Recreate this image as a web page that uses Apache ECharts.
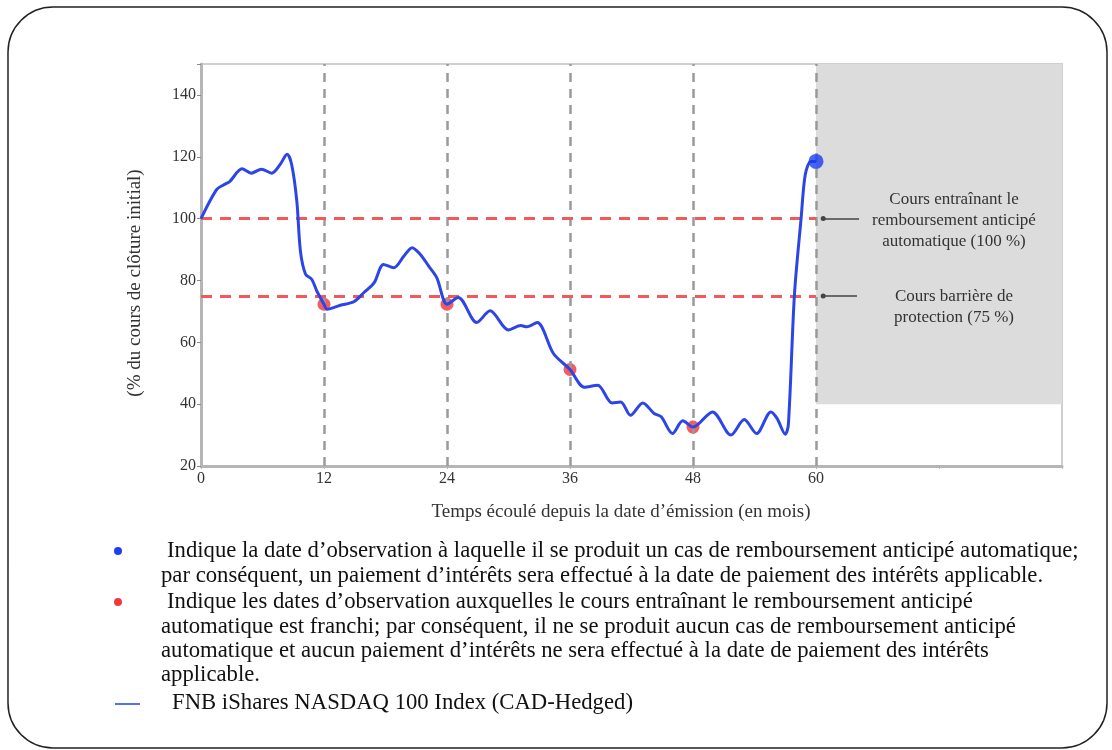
<!DOCTYPE html>
<html>
<head>
<meta charset="utf-8">
<script src="https://cdn.jsdelivr.net/npm/echarts@6.0.0/dist/echarts.min.js"></script>
<style>
  html, body { margin: 0; padding: 0; background: #fff; }
  #main { width: 1112px; height: 750px; }
</style>
</head>
<body>
<div id="main"></div>
<script>
// mois écoulés / % du cours de clôture initial
var months = [0, 1.5, 2.2, 2.8, 4.0, 4.9, 5.9, 6.9, 7.7, 8.4, 8.85, 9.35, 9.7, 10.2, 10.8, 11.3,
  12.0, 12.3, 13.6, 14.9, 15.9, 16.9, 17.8, 18.8, 19.8, 20.6, 21.4, 22.2, 23.0,
  24.0, 25.1, 26.9, 28.2, 30.0, 31.2, 31.8, 32.8, 34.4, 36.0, 37.4, 38.7, 40.1, 40.95,
  41.9, 43.1, 44.2, 44.9, 46.0, 47.0, 48.0, 49.9, 51.7, 53.0, 54.2, 55.6, 56.2, 57.0,
  57.3, 57.9, 58.55, 58.95, 59.5, 60.0];
var values = [100, 109.3, 110.9, 112, 116.1, 114.7, 116, 114.7, 117.4, 120.8, 117.4, 105.6, 89.5, 82, 80.4, 76.6,
  72.3, 70.7, 72, 73.1, 76.1, 79.3, 85.2, 84.1, 87.9, 90.6, 88.4, 84.7, 80.9,
  72.3, 74.5, 66.4, 70.2, 64, 65.4, 65, 66.4, 56.3, 51.2, 45.5, 46.1, 40.4, 40.7,
  36.4, 40.4, 37, 35.9, 30.5, 34.6, 32.6, 37.5, 30, 35, 30.5, 37.5, 35.4, 30.3,
  33.2, 75.6, 100.2, 114.2, 118.5, 118.5];

var observationMonths = [12, 24, 36, 48, 60];
var redDotValues = [72.3, 72.3, 51.2, 32.6];
var blueDotValue = 118.5;
var autocallLevel = 100;
var barrierLevel = 75;
var xTickLabels = ["0", "12", "24", "36", "48", "60"];
var yTickLabels = ["20", "40", "60", "80", "100", "120", "140"];

var legendLines = [
  "Indique la date d\u2019observation à laquelle il se produit un cas de remboursement anticipé automatique;",
  "par conséquent, un paiement d\u2019intérêts sera effectué à la date de paiement des intérêts applicable.",
  "Indique les dates d\u2019observation auxquelles le cours entraînant le remboursement anticipé",
  "automatique est franchi; par conséquent, il ne se produit aucun cas de remboursement anticipé",
  "automatique et aucun paiement d\u2019intérêts ne sera effectué à la date de paiement des intérêts",
  "applicable.",
  "FNB iShares NASDAQ 100 Index (CAD-Hedged)"
];

var lineData = months.map(function (m, i) { return [m, values[i]]; });
var redData = redDotValues.map(function (v, i) { return [observationMonths[i], v]; });

// largeur du texte de légende (police étroite dans l'original)
var cv = document.createElement("canvas").getContext("2d");
cv.font = '23px "Liberation Serif"';
var legendScale = 908 / cv.measureText(legendLines[0]).width * 1.004;

var serif = '"Liberation Serif", serif';
var legendY = [551, 576, 602, 627, 651, 675, 703];
var legendX = [167, 161, 167, 161, 161, 161, 172];

var graphics = [
  {
    type: "rect",
    z: -10,
    shape: { x: 8, y: 7, width: 1099, height: 741, r: 45 },
    style: { fill: "none", stroke: "#222", lineWidth: 1.5 }
  },
  {
    type: "text",
    z: 100,
    x: 621, y: 512,
    style: {
      text: "Temps écoulé depuis la date d\u2019émission (en mois)",
      font: "19px " + serif, fill: "#333", align: "center", verticalAlign: "middle"
    }
  },
  {
    type: "text",
    z: 100,
    x: 135, y: 283,
    rotation: Math.PI / 2,
    style: {
      text: "(% du cours de clôture initial)",
      font: "19px " + serif, fill: "#333", align: "center", verticalAlign: "middle"
    }
  },
  {
    type: "text",
    z: 100,
    x: 954, y: 221,
    style: {
      text: "Cours entraînant le\nremboursement anticipé\nautomatique (100 %)",
      font: "17px " + serif, fill: "#333", align: "center", verticalAlign: "middle", lineHeight: 21
    }
  },
  {
    type: "text",
    z: 100,
    x: 954, y: 307,
    style: {
      text: "Cours barrière de\nprotection (75 %)",
      font: "17px " + serif, fill: "#333", align: "center", verticalAlign: "middle", lineHeight: 21
    }
  },
  { type: "circle", z: 100, shape: { cx: 118, cy: 551, r: 4 }, style: { fill: "#1f3ff0" } },
  { type: "circle", z: 100, shape: { cx: 118, cy: 602, r: 4 }, style: { fill: "#f03a3a" } },
  { type: "line", z: 100, shape: { x1: 115, y1: 704, x2: 140, y2: 704 }, style: { stroke: "#1f3ff0", lineWidth: 1.5 } }
];
legendLines.forEach(function (t, i) {
  graphics.push({
    type: "text",
    z: 100,
    x: legendX[i], y: legendY[i],
    scaleX: legendScale,
    style: { text: t, font: "23px " + serif, fill: "#111", align: "left", verticalAlign: "middle" }
  });
});

var myChart = echarts.init(document.getElementById("main"));
var option = {
  animation: false,
  backgroundColor: "#fff",
  grid: {
    left: 201, top: 64, right: 50, bottom: 284,
    show: true, borderColor: "#cfcfcf", borderWidth: 2
  },
  xAxis: {
    type: "value",
    min: 0, max: 84, interval: 12,
    splitLine: { show: false },
    axisLine: { lineStyle: { color: "#b5b5b5", width: 3 } },
    axisTick: { show: true, length: 3, lineStyle: { color: "#b5b5b5" } },
    axisLabel: {
      color: "#333", fontFamily: serif, fontSize: 16, margin: 5,
      formatter: function (v) { return xTickLabels.indexOf(String(v)) >= 0 ? String(v) : ""; }
    }
  },
  yAxis: {
    type: "value",
    min: 20, max: 150, interval: 20,
    splitLine: { show: false },
    axisLine: { show: true, lineStyle: { color: "#b5b5b5", width: 3 } },
    axisTick: { show: true, length: 4, lineStyle: { color: "#888" } },
    axisLabel: {
      color: "#333", fontFamily: serif, fontSize: 16, margin: 5,
      formatter: function (v) { return yTickLabels.indexOf(String(v)) >= 0 ? String(v) : ""; }
    }
  },
  graphic: graphics,
  series: [
    {
      name: "zone",
      type: "line",
      data: [],
      silent: true,
      markArea: {
        silent: true,
        itemStyle: { color: "#dcdcdc" },
        data: [[{ coord: [60, 150] }, { coord: [84, 40] }]]
      }
    },
    {
      name: "observations",
      type: "line",
      data: [],
      silent: true,
      markLine: {
        silent: true,
        symbol: ["none", "none"],
        label: { show: false },
        lineStyle: { color: "#9a9a9a", type: [9, 7], width: 2.5 },
        data: observationMonths.map(function (m) { return { xAxis: m }; })
      }
    },
    {
      name: "niveaux",
      type: "line",
      data: [],
      silent: true,
      markLine: {
        silent: true,
        symbol: ["none", "none"],
        label: { show: false },
        lineStyle: { color: "#f25a5a", type: [11, 8], width: 3 },
        data: [
          [{ coord: [0, autocallLevel] }, { coord: [60, autocallLevel] }],
          [{ coord: [0, barrierLevel] }, { coord: [60, barrierLevel] }]
        ]
      }
    },
    {
      name: "fleches",
      type: "line",
      data: [],
      silent: true,
      markLine: {
        silent: true,
        symbol: ["circle", "none"],
        symbolSize: 5,
        label: { show: false },
        lineStyle: { color: "#444", type: "solid", width: 1.5 },
        data: [
          [{ coord: [60.7, autocallLevel] }, { coord: [64.2, autocallLevel] }],
          [{ coord: [60.7, barrierLevel] }, { coord: [64.0, barrierLevel] }]
        ]
      }
    },
    {
      name: "FNB iShares NASDAQ 100 Index (CAD-Hedged)",
      type: "line",
      data: lineData,
      smooth: 0.3,
      symbol: "none",
      lineStyle: { color: "#2c45e6", width: 3 },
      z: 5
    },
    {
      name: "rouge",
      type: "scatter",
      data: redData,
      symbolSize: 13,
      itemStyle: { color: "rgba(240,30,30,0.9)" },
      z: 4
    },
    {
      name: "bleu",
      type: "scatter",
      data: [[60, blueDotValue]],
      symbolSize: 15,
      itemStyle: { color: "#1a3cf2" },
      z: 6
    }
  ]
};
myChart.setOption(option);
</script>
</body>
</html>
